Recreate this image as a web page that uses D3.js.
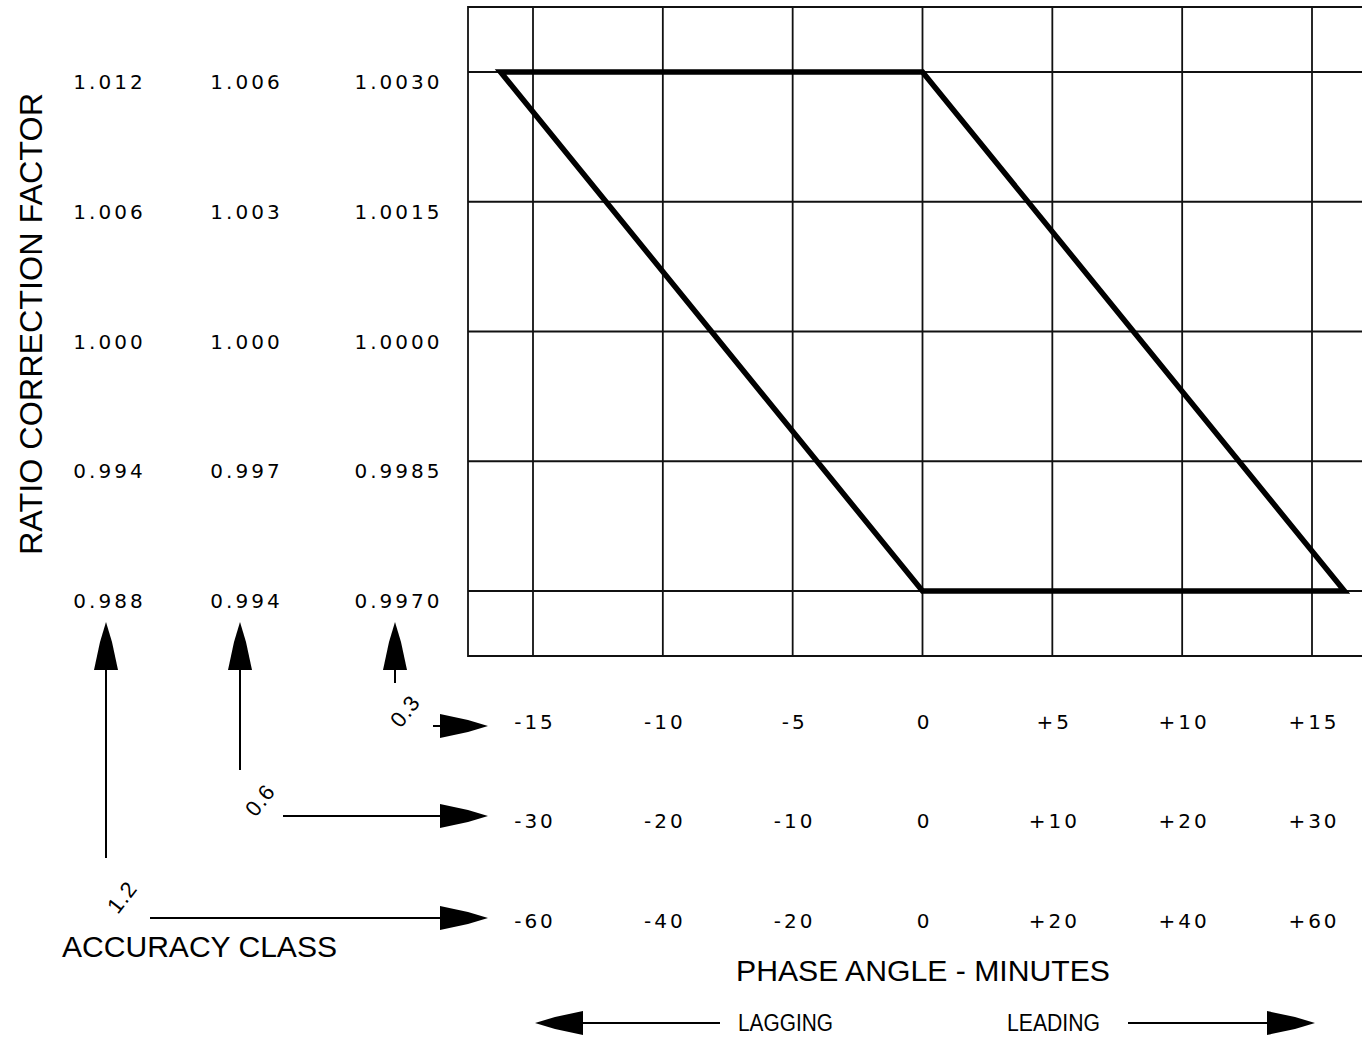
<!DOCTYPE html>
<html lang="en">

<head>
    <meta charset="UTF-8">
    <title>Accuracy class parallelogram</title>
    <script src="https://d3js.org/d3.v7.min.js"></script>
    <style>
        body { margin: 0; background: #fff; }
    </style>
</head>

<body>
    <script>
        // accuracy classes, in the order the rows/columns are drawn (inner to outer)
        var classes = ["0.3", "0.6", "1.2"];

        // ratio correction factor ticks for each class
        var rcfTicks = [
            [1.0030, 1.0015, 1.0000, 0.9985, 0.9970],
            [1.006, 1.003, 1.000, 0.997, 0.994],
            [1.012, 1.006, 1.000, 0.994, 0.988]
        ];
        var rcfLabels = [
            ["1.0030", "1.0015", "1.0000", "0.9985", "0.9970"],
            ["1.006", "1.003", "1.000", "0.997", "0.994"],
            ["1.012", "1.006", "1.000", "0.994", "0.988"]
        ];

        // phase angle ticks (minutes) for each class
        var phaseTicks = [
            [-15, -10, -5, 0, 5, 10, 15],
            [-30, -20, -10, 0, 10, 20, 30],
            [-60, -40, -20, 0, 20, 40, 60]
        ];
        var phaseLabels = [
            ["-15", "-10", "-5", "0", "+5", "+10", "+15"],
            ["-30", "-20", "-10", "0", "+10", "+20", "+30"],
            ["-60", "-40", "-20", "0", "+20", "+40", "+60"]
        ];

        // limit parallelogram, in class 0.3 units
        var limitPhase = [-16.25, 0, 16.25, 0];
        var limitRcf = [1.003, 1.003, 0.997, 0.997];

        var width = 1362;
        var height = 1037;
        var font = "'Liberation Sans', Arial, sans-serif";
        var numFont = "'DejaVu Sans', sans-serif";

        // plot box
        var boxLeft = 468, boxTop = 7, boxBottom = 656;
        var x0 = 533, x1 = 1312, yTop = 72, yBot = 591;

        // layout of the per-class labels
        var colX = [397, 245, 108];          // rcf label columns
        var rowY = [715, 814, 914];          // phase label rows
        var arrowX = [395, 240, 106];        // vertical arrows
        var arrowBottom = [683, 770, 858];
        var hArrowY = [726, 816, 918];       // horizontal arrows
        var hArrowStart = [433, 283, 150];
        var classPos = [[405, 711], [260, 800], [122, 897]];

        var svg = d3.select("body")
            .append("svg")
            .attr("width", width)
            .attr("height", height);

        var xs = phaseTicks.map(function (t) {
            return d3.scaleLinear().domain([t[0], t[t.length - 1]]).range([x0, x1]);
        });
        var ys = rcfTicks.map(function (t) {
            return d3.scaleLinear().domain([t[t.length - 1], t[0]]).range([yBot, yTop]);
        });
        var x = xs[0], y = ys[0];

        // grid
        var grid = svg.append("g").attr("stroke", "#111").attr("stroke-width", 1.8);
        grid.selectAll("line.v")
            .data(phaseTicks[0])
            .enter()
            .append("line")
            .attr("class", "v")
            .attr("x1", d => x(d)).attr("x2", d => x(d))
            .attr("y1", boxTop).attr("y2", boxBottom);
        grid.selectAll("line.h")
            .data(rcfTicks[0])
            .enter()
            .append("line")
            .attr("class", "h")
            .attr("x1", boxLeft).attr("x2", width)
            .attr("y1", d => y(d)).attr("y2", d => y(d));
        grid.append("path")
            .attr("fill", "none")
            .attr("d", "M" + width + "," + boxTop + "H" + boxLeft + "V" + boxBottom + "H" + width);

        // limit parallelogram
        var line = d3.line()
            .x(function (d, i) { return x(limitPhase[i]); })
            .y(function (d, i) { return y(limitRcf[i]); });
        svg.append("path")
            .attr("d", line(limitPhase) + "Z")
            .attr("fill", "none")
            .attr("stroke", "#000")
            .attr("stroke-width", 5.5)
            .attr("stroke-linejoin", "miter");

        // rcf labels, three columns
        rcfTicks.forEach(function (ticks, k) {
            svg.append("g")
                .selectAll("text")
                .data(ticks)
                .enter()
                .append("text")
                .attr("x", colX[k] + 1.5)
                .attr("y", d => ys[k](d) + 17)
                .attr("text-anchor", "middle")
                .attr("font-family", numFont)
                .attr("font-size", 20)
                .style("letter-spacing", "3px")
                .text((d, i) => rcfLabels[k][i]);
        });

        // phase angle labels, three rows
        phaseTicks.forEach(function (ticks, k) {
            var g = svg.append("g")
                .attr("transform", "translate(0," + rowY[k] + ")")
                .call(d3.axisBottom(xs[k])
                    .tickValues(ticks)
                    .tickFormat((d, i) => phaseLabels[k][i])
                    .tickSize(0)
                    .tickPadding(0));
            g.select(".domain").remove();
            g.attr("font-family", numFont).attr("font-size", 20);
            g.selectAll("text")
                .attr("fill", "#000")
                .attr("dx", 1.5)
                .style("letter-spacing", "3px");
        });

        // arrow heads
        function head(tx, ty, dir) {
            // dir: [dx, dy] unit vector pointing to the tip
            var L = 48, W = 12;
            var bx = tx - dir[0] * L, by = ty - dir[1] * L;
            var px = -dir[1], py = dir[0];
            var mx = tx - dir[0] * 20, my = ty - dir[1] * 20;
            return "M" + tx + "," + ty +
                "L" + (mx + px * 6) + "," + (my + py * 6) +
                "L" + (bx + px * W) + "," + (by + py * W) +
                "L" + (bx - px * W) + "," + (by - py * W) +
                "L" + (mx - px * 6) + "," + (my - py * 6) + "Z";
        }

        var arrows = svg.append("g");
        classes.forEach(function (c, k) {
            arrows.append("line")
                .attr("x1", arrowX[k]).attr("x2", arrowX[k])
                .attr("y1", arrowBottom[k]).attr("y2", 660)
                .attr("stroke", "#000").attr("stroke-width", 2);
            arrows.append("path")
                .attr("d", head(arrowX[k], 622, [0, -1]))
                .attr("fill", "#000");
            arrows.append("line")
                .attr("x1", hArrowStart[k]).attr("x2", 450)
                .attr("y1", hArrowY[k]).attr("y2", hArrowY[k])
                .attr("stroke", "#000").attr("stroke-width", 2);
            arrows.append("path")
                .attr("d", head(488, hArrowY[k], [1, 0]))
                .attr("fill", "#000");
            svg.append("text")
                .attr("transform", "translate(" + classPos[k][0] + "," + classPos[k][1] + ") rotate(-52)")
                .attr("text-anchor", "middle")
                .attr("dy", "0.35em")
                .attr("font-family", font)
                .attr("font-size", 22)
                .style("letter-spacing", "1px")
                .text(c);
        });

        // lagging / leading arrows
        arrows.append("line")
            .attr("x1", 570).attr("x2", 720)
            .attr("y1", 1023).attr("y2", 1023)
            .attr("stroke", "#000").attr("stroke-width", 2);
        arrows.append("path").attr("d", head(535, 1023, [-1, 0])).attr("fill", "#000");
        arrows.append("line")
            .attr("x1", 1128).attr("x2", 1280)
            .attr("y1", 1023).attr("y2", 1023)
            .attr("stroke", "#000").attr("stroke-width", 2);
        arrows.append("path").attr("d", head(1315, 1023, [1, 0])).attr("fill", "#000");

        // titles
        svg.append("text")
            .attr("transform", "translate(42,324) rotate(-90)")
            .attr("text-anchor", "middle")
            .attr("font-family", font)
            .attr("font-size", 31)
            .attr("textLength", 462)
            .attr("lengthAdjust", "spacingAndGlyphs")
            .text("RATIO CORRECTION FACTOR");
        svg.append("text")
            .attr("x", 62).attr("y", 957)
            .attr("font-family", font)
            .attr("font-size", 30)
            .attr("textLength", 275)
            .attr("lengthAdjust", "spacingAndGlyphs")
            .text("ACCURACY CLASS");
        svg.append("text")
            .attr("x", 736).attr("y", 981)
            .attr("font-family", font)
            .attr("font-size", 30)
            .attr("textLength", 374)
            .attr("lengthAdjust", "spacingAndGlyphs")
            .text("PHASE ANGLE - MINUTES");
        svg.append("text")
            .attr("x", 738).attr("y", 1031)
            .attr("font-family", font)
            .attr("font-size", 23)
            .attr("textLength", 95)
            .attr("lengthAdjust", "spacingAndGlyphs")
            .text("LAGGING");
        svg.append("text")
            .attr("x", 1007).attr("y", 1031)
            .attr("font-family", font)
            .attr("font-size", 23)
            .attr("textLength", 93)
            .attr("lengthAdjust", "spacingAndGlyphs")
            .text("LEADING");
    </script>
</body>

</html>
